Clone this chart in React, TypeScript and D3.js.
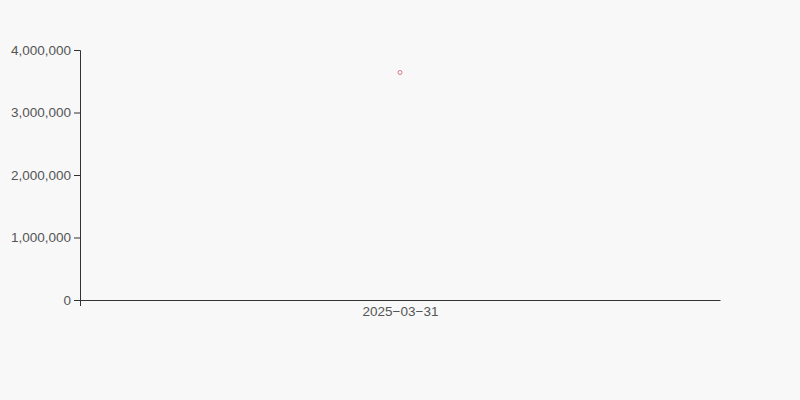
import React, { useEffect, useRef } from "react";
import * as d3 from "d3";

const dates = ["2025-03-31"];
const values = [3640000];
const yTicks = [0, 1000000, 2000000, 3000000, 4000000];

export default function App() {
  const ref = useRef<SVGSVGElement>(null);
  useEffect(() => {
    const svg = d3.select(ref.current);
    svg.selectAll("*").remove();
    const W = 800, H = 400;
    const m = { top: 50, right: 80, bottom: 100, left: 80 };
    svg.append("rect").attr("width", W).attr("height", H).attr("fill", "#f8f8f8");
    const x = d3.scalePoint<string>().domain(dates).range([m.left, W - m.right]).padding(0.5);
    const y = d3.scaleLinear().domain([0, 4000000]).range([H - m.bottom, m.top]);
    const font = "'Liberation Sans', Arial, sans-serif";

    const gy = svg.append("g").attr("transform", `translate(${m.left},0)`)
      .call(d3.axisLeft(y).tickValues(yTicks).tickFormat(d3.format(",") as any));
    gy.selectAll("text").attr("font-size", 13.5).attr("font-family", font).attr("fill", "#555");
    gy.selectAll("line,path").attr("stroke", "#333");

    const gx = svg.append("g").attr("transform", `translate(0,${H - m.bottom})`)
      .call(d3.axisBottom(x).tickSize(0).tickPadding(6.5).tickSizeOuter(0)
        .tickFormat((d: string) => d.replace(/-/g, "\u2212")));
    gx.selectAll("text").attr("font-size", 13.5).attr("font-family", font).attr("fill", "#555");
    gx.selectAll("line,path").attr("stroke", "#333");
    gx.append("line").attr("x1", m.left + 0.5).attr("x2", m.left + 0.5).attr("y1", 0).attr("y2", 6).attr("stroke", "#333");

    svg.append("g").selectAll("circle").data(values).join("circle")
      .attr("cx", (_, i) => x(dates[i]) as number)
      .attr("cy", d => y(d))
      .attr("r", 2)
      .attr("fill", "none")
      .attr("stroke", "#d9777f")
      .attr("stroke-width", 1);
  }, []);
  return <svg ref={ref} width={800} height={400} style={{ display: "block", position: "absolute", left: 0, top: 0 }} />;
}
